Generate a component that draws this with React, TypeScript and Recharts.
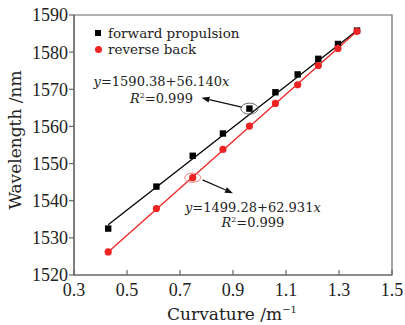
import React from "react"
import {
  ComposedChart,
  Line,
  Scatter,
  XAxis,
  YAxis,
  ReferenceArea,
  ReferenceDot,
  ReferenceLine,
} from "recharts"

// curvature values (m^-1) shared by both runs
const curvature = [0.429, 0.611, 0.748, 0.862, 0.962, 1.06, 1.144, 1.222, 1.296, 1.368]
// dip wavelength (nm)
const forwardWl = [1532.5, 1543.8, 1552.1, 1558.1, 1564.8, 1569.2, 1574.0, 1578.2, 1582.2, 1585.8]
const reverseWl = [1526.2, 1537.9, 1546.2, 1553.8, 1560.1, 1566.2, 1571.2, 1576.4, 1581.0, 1585.6]
// fitted lines, end points
const fitX = [0.429, 1.368]
const forwardFit = [1533.5, 1585.8]
const reverseFit = [1526.2, 1585.6]

const xTicks = [0.3, 0.5, 0.7, 0.9, 1.1, 1.3, 1.5]
const yTicks = [1520, 1530, 1540, 1550, 1560, 1570, 1580, 1590]
const seriesNames = ["forward propulsion", "reverse back"]

const forwardPts = curvature.map((x, i) => ({ x, y: forwardWl[i] }))
const reversePts = curvature.map((x, i) => ({ x, y: reverseWl[i] }))
const forwardLine = fitX.map((x, i) => ({ x, y: forwardFit[i] }))
const reverseLine = fitX.map((x, i) => ({ x, y: reverseFit[i] }))

const RED = "#ee2424"
const SERIF = "'DejaVu Serif', serif"
const TICKFONT = "'Liberation Serif', serif"

const XTick = (props: any) => {
  const { x, y, payload } = props
  return (
    <g>
      <line x1={x} y1={y} x2={x} y2={y - 5} stroke="#666" strokeWidth={1.2} />
      <text x={x} y={y + 21} textAnchor="middle" fontFamily={TICKFONT} fontSize={18} fill="#222">
        {Number(payload.value).toFixed(1)}
      </text>
    </g>
  )
}

const squareShape = (p: any) => <rect x={p.cx - 3.2} y={p.cy - 3.2} width={6.4} height={6.4} fill="#000" />
const circleShape = (p: any) => <circle cx={p.cx} cy={p.cy} r={3.6} fill={RED} />

const arrow = (p: any) => {
  const { x1, y1, x2, y2 } = p
  const dx = x2 - x1
  const dy = y2 - y1
  const len = Math.sqrt(dx * dx + dy * dy)
  const ux = dx / len
  const uy = dy / len
  const bx = x2 - ux * 8
  const by = y2 - uy * 8
  return (
    <g>
      <line x1={x1} y1={y1} x2={bx} y2={by} stroke="#111" strokeWidth={1.2} />
      <polygon
        points={`${x2},${y2} ${bx - uy * 3},${by + ux * 3} ${bx + uy * 3},${by - ux * 3}`}
        fill="#111"
      />
    </g>
  )
}

const eqLabel = (a: string, gap: number) => (p: any) => (
  <g fontFamily={SERIF} fontSize={13} fill="#222" textAnchor="middle">
    <text x={p.cx} y={p.cy + 4.5}>
      <tspan fontStyle="italic">y</tspan>={a}
      <tspan fontStyle="italic">x</tspan>
    </text>
    <text x={p.cx} y={p.cy + 4.5 + gap}>
      <tspan fontStyle="italic">R</tspan>
      <tspan fontSize={8} dy={-5}>2</tspan>
      <tspan dy={5}>=0.999</tspan>
    </text>
  </g>
)

const ellipse = (color: string, rx: number, ry: number) => (p: any) => (
  <ellipse cx={p.cx} cy={p.cy} rx={rx} ry={ry} fill="none" stroke={color} strokeWidth={0.9} />
)

const LegendBox = () => (
  <div
    style={{
      position: "absolute",
      left: 95,
      top: 25,
      fontFamily: SERIF,
      fontSize: 13.5,
      color: "#222",
      lineHeight: "16px",
    }}
  >
    <div style={{ display: "flex", alignItems: "center" }}>
      <span style={{ width: 6, height: 6, background: "#000", marginRight: 7 }} />
      {seriesNames[0]}
    </div>
    <div style={{ display: "flex", alignItems: "center" }}>
      <span style={{ width: 7, height: 7, borderRadius: 4, background: RED, marginRight: 6 }} />
      {seriesNames[1]}
    </div>
  </div>
)

export default function App() {
  return (
    <div style={{ position: "absolute", left: 0, top: 0, width: 405, height: 325, background: "#fff" }}>
      <ComposedChart width={405} height={325} margin={{ top: 15, right: 13, bottom: 0, left: 0 }}>
        <XAxis
          type="number"
          dataKey="x"
          domain={[0.3, 1.5]}
          ticks={xTicks}
          tickSize={0}
          tickMargin={0}
          tick={XTick}
          height={50}
          stroke="#666"
          strokeWidth={1.2}
          allowDataOverflow
          label={{
            content: () => (
              <text x={232} y={320} textAnchor="middle" fontFamily={SERIF} fontSize={17} fill="#222">
                Curvature /m<tspan fontSize={10} dy={-7}>−1</tspan>
              </text>
            ),
          }}
        />
        <YAxis
          type="number"
          domain={[1520, 1590]}
          ticks={yTicks}
          width={74}
          tickSize={5}
          tickMargin={1}
          stroke="#666"
          strokeWidth={1.2}
          allowDataOverflow
          tick={{ fontFamily: TICKFONT, fontSize: 18, fill: "#222" }}
          label={{
            content: () => (
              <text
                x={15}
                y={140}
                transform="rotate(-90 15 140)"
                textAnchor="middle"
                dominantBaseline="central"
                fontFamily={SERIF}
                fontSize={17}
                fill="#222"
              >
                Wavelength /nm
              </text>
            ),
          }}
        />
        <ReferenceArea x1={0.3} x2={1.5} y1={1520} y2={1590} fill="none" stroke="#666" strokeWidth={1.2} fillOpacity={0} />
        <Line data={forwardLine} dataKey="y" stroke="#000" strokeWidth={1.3} dot={false} isAnimationActive={false} />
        <Line data={reverseLine} dataKey="y" stroke={RED} strokeWidth={1.3} dot={false} isAnimationActive={false} />
        <Scatter name={seriesNames[0]} data={forwardPts} dataKey="y" shape={squareShape} isAnimationActive={false} />
        <Scatter name={seriesNames[1]} data={reversePts} dataKey="y" shape={circleShape} isAnimationActive={false} />
        <ReferenceDot x={curvature[4]} y={forwardWl[4]} r={0} shape={ellipse("#555", 8.5, 5.5)} />
        <ReferenceDot x={curvature[2]} y={reverseWl[2]} r={0} shape={ellipse("#f07070", 8, 4.6)} />
        <ReferenceLine segment={[{ x: 0.933, y: 1565.2 }, { x: 0.781, y: 1567.7 }]} shape={arrow} />
        <ReferenceLine segment={[{ x: 0.785, y: 1545.6 }, { x: 0.9, y: 1542.0 }]} shape={arrow} />
        <ReferenceDot x={0.63} y={1572} r={0} shape={eqLabel("1590.38+56.140", 17)} />
        <ReferenceDot x={0.975} y={1538.3} r={0} shape={eqLabel("1499.28+62.931", 15)} />
      </ComposedChart>
      <LegendBox />
    </div>
  )
}
